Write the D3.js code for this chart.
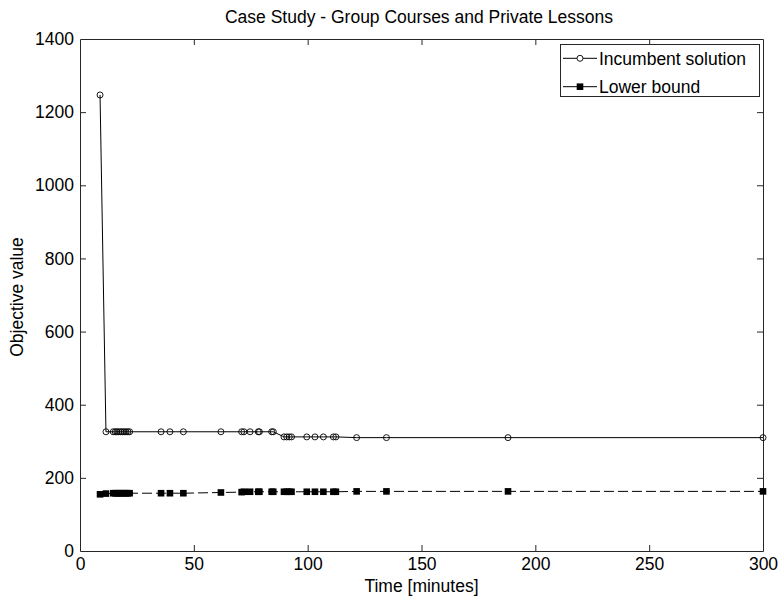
<!DOCTYPE html>
<html><head><meta charset="utf-8">
<script src="https://cdn.jsdelivr.net/npm/d3@7"></script>
<style>
html,body{margin:0;padding:0;background:#fff;}
svg{display:block;font-family:"Liberation Sans",Arial,Helvetica,sans-serif;}
</style></head>
<body><svg id="c" width="778" height="599"></svg>
<script>
const times = [8.8, 11.4, 14.6, 15.5, 16.2, 17, 17.8, 18.6, 19.4, 20.2, 21, 21.8, 35.6, 39.5, 45.4, 61.9, 71.0, 72.0, 74.7, 78.3, 78.8, 84.2, 84.9, 89.6, 90.8, 91.9, 92.9, 99.6, 103.2, 106.9, 111.3, 112.4, 121.5, 134.6, 188.0, 300];
const incumbent = [1247, 326, 326, 326, 326, 326, 326, 326, 326, 326, 326, 326, 326, 326, 326, 326, 326, 326, 326, 326, 326, 326, 326, 312, 312, 312, 312, 312, 312, 312, 312, 312, 310, 310, 310, 310];
const lowerBound = [155, 157, 158, 158, 158, 158, 158, 158, 158, 158, 158, 158, 158, 158, 158, 160, 161, 162, 162, 162, 162, 162, 162, 162, 162, 162, 162, 162, 162, 162, 162, 162, 163, 163, 163, 163];
const xTicks = [0, 50, 100, 150, 200, 250, 300];
const yTicks = [0, 200, 400, 600, 800, 1000, 1200, 1400];
const seriesNames = ["Incumbent solution", "Lower bound"];
const title = "Case Study - Group Courses and Private Lessons";
const xLabel = "Time [minutes]";
const yLabel = "Objective value";

const svg = d3.select("#c");
const L = 80, R = 763, T = 39, B = 551;
const x = d3.scaleLinear().domain([0, 300]).range([L, R]);
const y = d3.scaleLinear().domain([0, 1400]).range([B, T]);
const axCol = "#262626";
const fs = 17.5;
const fmt = d3.format("d");

svg.append("rect").attr("width", 778).attr("height", 599).attr("fill", "#fff");

// axes with inward ticks
const gx = svg.append("g").attr("transform", `translate(0,${B})`)
  .call(d3.axisBottom(x).tickValues(xTicks).tickFormat(fmt).tickSizeInner(-6).tickSizeOuter(0).tickPadding(7));
const gxt = svg.append("g").attr("transform", `translate(0,${T})`)
  .call(d3.axisTop(x).tickValues(xTicks).tickSizeInner(-6).tickSizeOuter(0).tickFormat(""));
const gy = svg.append("g").attr("transform", `translate(${L},0)`)
  .call(d3.axisLeft(y).tickValues(yTicks).tickFormat(fmt).tickSizeInner(-6).tickSizeOuter(0).tickPadding(6));
const gyr = svg.append("g").attr("transform", `translate(${R},0)`)
  .call(d3.axisRight(y).tickValues(yTicks).tickSizeInner(-6).tickSizeOuter(0).tickFormat(""));
[gx, gxt, gy, gyr].forEach(g => {
  g.select(".domain").attr("stroke", axCol);
  g.selectAll(".tick line").attr("stroke", axCol);
  g.selectAll(".tick text").attr("font-size", fs).attr("font-family", "Liberation Sans, Arial, sans-serif").attr("fill", "#000");
});
[gx, gxt].forEach(g => g.selectAll(".tick line").filter(d => d === 0 || d === 300).remove());
[gy, gyr].forEach(g => g.selectAll(".tick line").filter(d => d === 0 || d === 1400).remove());

// lines
const line = (vals) => d3.line().x((d, i) => x(times[i])).y(d => y(d))(vals);
svg.append("path").attr("d", line(incumbent)).attr("fill", "none").attr("stroke", "#000").attr("stroke-width", 1);
svg.append("path").attr("d", line(lowerBound)).attr("fill", "none").attr("stroke", "#000").attr("stroke-width", 1).attr("stroke-dasharray", "10,4");

svg.append("g").selectAll("circle").data(incumbent).join("circle")
  .attr("cx", (d, i) => x(times[i])).attr("cy", d => y(d)).attr("r", 3)
  .attr("fill", "none").attr("stroke", "#000").attr("stroke-width", 0.9);
svg.append("g").selectAll("rect").data(lowerBound).join("rect")
  .attr("x", (d, i) => x(times[i]) - 3.3).attr("y", d => y(d) - 3.3).attr("width", 6.6).attr("height", 6.6)
  .attr("fill", "#000");

// title and labels
svg.append("text").attr("x", 419).attr("y", 23).attr("text-anchor", "middle")
  .attr("font-size", fs).text(title);
svg.append("text").attr("x", (L + R) / 2).attr("y", 592).attr("text-anchor", "middle")
  .attr("font-size", fs).text(xLabel);
svg.append("text").attr("transform", `translate(23,297) rotate(-90)`).attr("text-anchor", "middle")
  .attr("font-size", fs).text(yLabel);

// legend
const lg = svg.append("g");
lg.append("rect").attr("x", 560.5).attr("y", 44.5).attr("width", 199).attr("height", 52)
  .attr("fill", "#fff").attr("stroke", axCol);
const rows = [58.3, 86.7];
seriesNames.forEach((n, i) => {
  const cy = rows[i];
  lg.append("line").attr("x1", 563).attr("x2", 597).attr("y1", cy).attr("y2", cy).attr("stroke", "#000");
  if (i === 0) lg.append("circle").attr("cx", 580).attr("cy", cy).attr("r", 3).attr("fill", "#fff").attr("stroke", "#000").attr("stroke-width", 0.9);
  else lg.append("rect").attr("x", 576.7).attr("y", cy - 3.3).attr("width", 6.6).attr("height", 6.6).attr("fill", "#000");
  lg.append("text").attr("x", 599).attr("y", cy + 6.3).attr("font-size", fs).text(n);
});
</script></body></html>
